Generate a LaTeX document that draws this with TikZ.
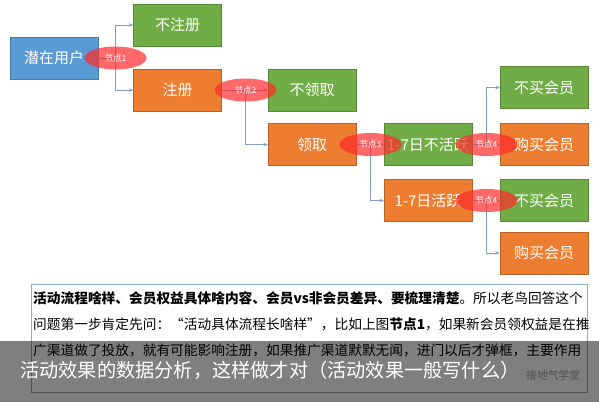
\documentclass[tikz,border=0pt]{standalone}
\usepackage{fontspec}
\setmainfont{Noto Sans CJK SC}
\usetikzlibrary{arrows.meta,shapes.geometric}
\definecolor{lanse}{HTML}{5B9BD5}
\definecolor{lvse}{HTML}{70AD47}
\definecolor{chengse}{HTML}{ED7D31}
\definecolor{jiedian}{HTML}{FF2A2A}
\definecolor{xian}{HTML}{7F9FC6}
\definecolor{kuang}{HTML}{94AEC6}
\begin{document}
\begin{tikzpicture}[x=1pt,y=-1pt,
    box/.style={draw=#1!78!black,fill=#1,minimum width=88pt,minimum height=42pt,
      inner sep=0pt,text=white,font=\fontsize{15}{15}\selectfont},
    jd/.style={ellipse,fill=jiedian,fill opacity=0.7,text opacity=1,text=white,
      minimum width=62pt,minimum height=23pt,inner sep=0pt,font=\fontsize{8.5}{8.5}\selectfont},
    conn/.style={xian,line width=0.8pt,-{Stealth[length=4.5pt,width=3.5pt]}}]
    \useasboundingbox (0,0) rectangle (599,402);
    % boxes
    \node[box=lanse] (user) at (54,58) {潜在用户};
    \node[box=lvse] (noreg) at (177.5,25) {不注册};
    \node[box=chengse] (reg) at (177.5,90) {注册};
    \node[box=lvse] (noget) at (312,90) {不领取};
    \node[box=chengse] (get) at (312,144.5) {领取};
    \node[box=lvse] (inact) at (428,144.5) {1-7日不活跃};
    \node[box=chengse] (act) at (428,200.5) {1-7日活跃};
    \node[box=lvse] (nobuy1) at (544,87.5) {不买会员};
    \node[box=chengse] (buy1) at (544,144.5) {购买会员};
    \node[box=lvse] (nobuy2) at (544,200.5) {不买会员};
    \node[box=chengse] (buy2) at (544,253) {购买会员};
    % forks
    \coordinate (j1) at (115.5,58);
    \coordinate (j2) at (245.5,90);
    \coordinate (j3) at (370.5,144.5);
    \coordinate (j4) at (486.5,144.5);
    \coordinate (j5) at (486.5,200.5);
    \draw[conn] (user.east) -- (j1) |- (noreg.west);
    \draw[conn] (j1) |- (reg.west);
    \draw[conn] (reg.east) -- (noget.west);
    \draw[conn] (j2) |- (get.west);
    \draw[conn] (get.east) -- (inact.west);
    \draw[conn] (j3) |- (act.west);
    \draw[conn] (inact.east) -- (buy1.west);
    \draw[conn] (j4) |- (nobuy1.west);
    \draw[conn] (act.east) -- (nobuy2.west);
    \draw[conn] (j5) |- (buy2.west);
    \node[jd] (n1) at (j1) {节点1};
    \node[jd] (n2) at (j2) {节点2};
    \node[jd] (n3) at (j3) {节点3};
    \node[jd] (n4) at (j4) {节点4};
    \node[jd] (n5) at (j5) {节点4};
    % text block
    \draw[kuang,line width=0.6pt] (31,284) rectangle (587,392);
    \node[anchor=north west,align=left,inner sep=0pt,font=\fontsize{13.7}{26.3}\selectfont] (wenzi) at (33,291)
      {\textbf{活动流程啥样、会员权益具体啥内容、会员vs非会员差异、要梳理清楚}。所以老鸟回答这个\\
       问题第一步肯定先问：“活动具体流程长啥样”，比如上图\textbf{节点1}，如果新会员领权益是在推\\
       广渠道做了投放，就有可能影响注册，如果推广渠道默默无闻，进门以后才弹框，主要作用};
    \node[anchor=west,inner sep=0pt,text=gray!75,font=\fontsize{10.8}{10.8}\selectfont] (shuiyin) at (526,375) {接地气学堂};
    % title band
    \fill[black,opacity=0.5] (0,341) rectangle (599,402);
    \node[anchor=west,inner sep=0pt,text=white,font=\fontsize{19.2}{19.2}\selectfont] (biaoti) at (20,370)
      {活动效果的数据分析，这样做才对（活动效果一般写什么）};
\end{tikzpicture}
\end{document}
